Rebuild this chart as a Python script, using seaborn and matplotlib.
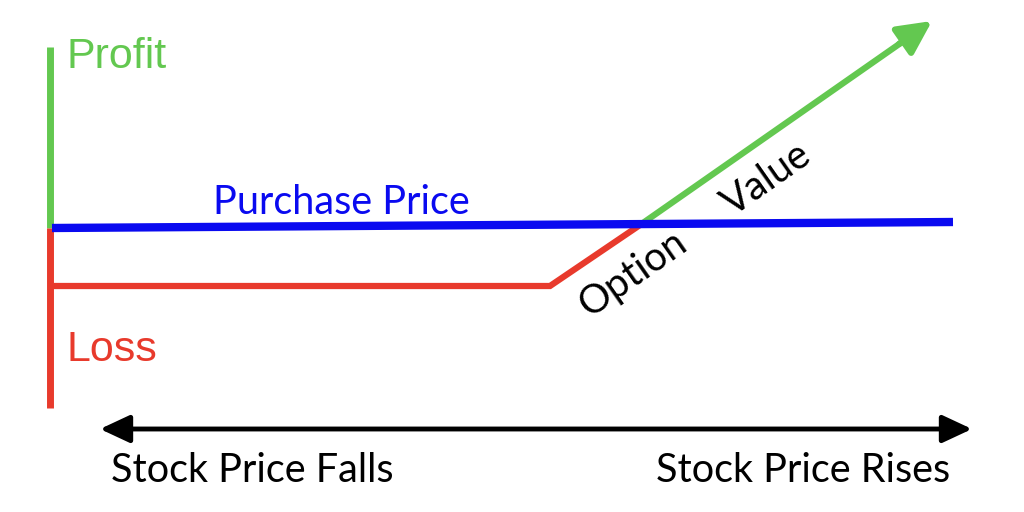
import matplotlib
matplotlib.use("Agg")
import matplotlib.pyplot as plt
import seaborn as sns
import pandas as pd

sns.set_theme(style="white")

# Diagram geometry (pixel-like units, y grows downward)
profit_axis_x = [50, 50]
profit_axis_y = [47, 228]
loss_axis_x = [50, 50]
loss_axis_y = [228, 408]
purchase_x = [52, 953]
purchase_y = [228, 222]
option_loss_x = [52, 550, 640]
option_loss_y = [286, 286, 225]
option_gain_x = [640, 905]
option_gain_y = [225, 40]
gain_tip = (932, 21)
stock_axis_x = [100, 972]
stock_axis_y = [429, 429]

GREEN = "#63c850"
BLUE = "#0a0af0"
RED = "#e83a2c"

fig = plt.figure(figsize=(10.24, 5.12), dpi=100)
ax = fig.add_axes([0, 0, 1, 1])


def seg(xs, ys, color, lw):
    df = pd.DataFrame({"x": xs, "y": ys})
    sns.lineplot(data=df, x="x", y="y", estimator=None, sort=False,
                 color=color, linewidth=lw, ax=ax,
                 solid_capstyle="butt", solid_joinstyle="miter")


seg(profit_axis_x, profit_axis_y, GREEN, 5)
seg(loss_axis_x, loss_axis_y, RED, 5)
seg(option_loss_x, option_loss_y, RED, 4.5)
seg(option_gain_x, option_gain_y, GREEN, 4.5)
seg(purchase_x, purchase_y, BLUE, 6)

# green arrowhead
ax.annotate("", xy=gain_tip, xytext=(option_gain_x[-1] - 6, option_gain_y[-1] + 4),
            arrowprops=dict(arrowstyle="-|>,head_length=1.7,head_width=0.85",
                            color=GREEN, lw=4.5, shrinkA=0, shrinkB=0))

# stock price double arrow
ax.annotate("", xy=(stock_axis_x[1], stock_axis_y[1]),
            xytext=(stock_axis_x[0], stock_axis_y[0]),
            arrowprops=dict(arrowstyle="<|-|>,head_length=1.5,head_width=0.7",
                            color="black", lw=3.5, shrinkA=0, shrinkB=0))

arial = ["Liberation Sans", "DejaVu Sans"]
calib = ["Lato", "DejaVu Sans"]

ax.text(66, 57, "Profit", color=GREEN, fontsize=31, family=arial,
        ha="left", va="center")
ax.text(66, 350, "Loss", color=RED, fontsize=31, family=arial,
        ha="left", va="center")
ax.text(341, 202, "Purchase Price", color=BLUE, fontsize=28.5, family=calib,
        ha="center", va="center")
ax.text(633, 274, "Option", color="black", fontsize=28.5, family=calib,
        ha="center", va="center", rotation=35, rotation_mode="anchor")
ax.text(767, 179, "Value", color="black", fontsize=28.5, family=calib,
        ha="center", va="center", rotation=35, rotation_mode="anchor")
ax.text(252, 471, "Stock Price Falls", color="black", fontsize=28.5, family=calib,
        ha="center", va="center")
ax.text(803, 471, "Stock Price Rises", color="black", fontsize=28.5, family=calib,
        ha="center", va="center")

ax.set_xlim(0, 1024)
ax.set_ylim(512, 0)
ax.axis("off")

fig.savefig("out.png", dpi=100, facecolor="white")
